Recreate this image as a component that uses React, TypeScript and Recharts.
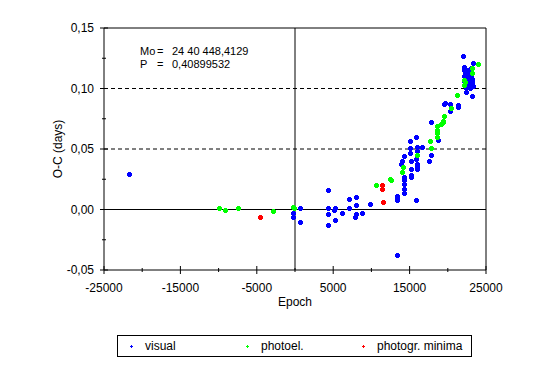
import React from "react";
import {
  ScatterChart,
  Scatter,
  XAxis,
  YAxis,
  ReferenceLine,
} from "recharts";

// epoch ticks every 5000, labels on every other one
const xTicks = [-25000, -20000, -15000, -10000, -5000, 0, 5000, 10000, 15000, 20000, 25000];
const yTicks = [-0.05, -0.025, 0, 0.025, 0.05, 0.075, 0.1, 0.125, 0.15];

const visualEpoch = [
  -21700, -300, -300, 650, 650, 4360, 4360, 4360, 4360, 5270, 5150, 5240, 6110, 7070, 7110,
  8020, 7980, 7980, 7890, 8770, 9820, 13310, 13310, 13310, 13310, 14230, 14230, 14230, 14230,
  14230, 13910, 14040, 14230, 15010, 15010, 15010, 15140, 15140, 15140, 15140, 15840, 15840,
  15840, 15930, 15930, 16010, 16010, 16010, 16620, 17580, 17800, 17840, 18680, 19590, 19500,
  20290, 20290, 21300, 21300, 21990, 22380, 23130, 22100, 22100, 22200, 22150, 22250, 22100,
  22300, 22200, 22400, 22600, 22700, 22550, 22800, 23000, 23050, 23100, 23150, 23200, 23250,
  22950, 23300, 22700, 22400,
];
const visualOC = [
  0.029, -0.003, -0.006, 0.001, -0.010, 0.016, 0.001, -0.004, -0.013, 0.001, 0.0, -0.0085,
  -0.003, 0.009, 0.001, 0.0105, 0.004, -0.0035, -0.006, -0.003, 0.0045, 0.011, 0.009, 0.0075,
  -0.038, 0.027, 0.024, 0.021, 0.017, 0.014, 0.038, 0.040, 0.044, 0.057, 0.0505, 0.047, 0.040,
  0.0335, 0.0285, 0.027, 0.060, 0.008, 0.042, 0.0515, 0.0485, 0.038, 0.0355, 0.0335, 0.0515,
  0.040, 0.072, 0.045, 0.0575, 0.088, 0.087, 0.0815, 0.087, 0.0865, 0.085, 0.127, 0.0975, 0.094,
  0.118, 0.115, 0.112, 0.110, 0.108, 0.106, 0.104, 0.102, 0.100, 0.112, 0.109, 0.106, 0.104,
  0.117, 0.114, 0.111, 0.108, 0.105, 0.102, 0.100, 0.121, 0.115, 0.110,
];

const photoelEpoch = [
  -10000, -9100, -7500, -2840, -300, -130, 10600, 12470, 12600, 14040, 14100, 16010, 17670,
  17800, 18590, 18590, 18590, 18590, 19110, 19330, 19540, 19410, 20380, 21240, 22160, 22160,
  22300, 23170, 23130, 23910,
];
const photoelOC = [
  0.001, 0.0, 0.001, -0.001, 0.002, 0.001, 0.020, 0.025, 0.0245, 0.031, 0.035, 0.045, 0.057,
  0.051, 0.069, 0.066, 0.063, 0.060, 0.071, 0.073, 0.077, 0.0727, 0.084, 0.095, 0.107, 0.103,
  0.105, 0.1125, 0.117, 0.120,
];

const photogrEpoch = [-4580, 11350, 11350, 11560];
const photogrOC = [-0.006, 0.020, 0.017, 0.006];

const toPoints = (xs: number[], ys: number[]) => xs.map((x, i) => ({ epoch: x, oc: ys[i] }));

const visual = toPoints(visualEpoch, visualOC);
const photoel = toPoints(photoelEpoch, photoelOC);
const photogr = toPoints(photogrEpoch, photogrOC);

const FONT = '"Liberation Sans", Arial, sans-serif';

// small pixel "plus" blob like the old Excel marker
function plus(cx: number, cy: number, fill: string, w = 5, t = 3) {
  const x = Math.round(cx);
  const y = Math.round(cy);
  const h = Math.floor(w / 2);
  const k = Math.floor(t / 2);
  return (
    <g shapeRendering="crispEdges" fill={fill}>
      <rect x={x - h} y={y - k} width={w} height={t} />
      <rect x={x - k} y={y - h} width={t} height={w} />
    </g>
  );
}

const marker = (fill: string, w?: number, t?: number) => (p: any) => plus(p.cx, p.cy, fill, w, t);

function XTick(props: any) {
  const { x, y, payload, index } = props;
  const major = index % 2 === 0;
  return (
    <g>
      <line x1={x} x2={x} y1={y - (major ? 4 : 2)} y2={y + (major ? 4 : 2)} stroke="#000" />
      {major && (
        <text x={x} y={y + 22} textAnchor="middle" fontSize={12} fontFamily={FONT} fill="#000">
          {payload.value}
        </text>
      )}
    </g>
  );
}

function YTick(props: any) {
  const { x, y, payload, index } = props;
  const major = index % 2 === 0;
  return (
    <g>
      <line x1={x - (major ? 4 : 2)} x2={x + (major ? 4 : 2)} y1={y} y2={y} stroke="#000" />
      {major && (
        <text x={x - 10} y={y + 4} textAnchor="end" fontSize={12} fontFamily={FONT} fill="#000">
          {payload.value.toFixed(2).replace(".", ",")}
        </text>
      )}
    </g>
  );
}

const legendItems = [
  { name: "visual", color: "#0000ff", x: 131 },
  { name: "photoel.", color: "#00ff00", x: 247 },
  { name: "photogr. minima", color: "#ff0000", x: 363 },
];

export default function App() {
  return (
    <div style={{ position: "absolute", left: 0, top: 0, width: 542, height: 368, background: "#fff" }}>
      <ScatterChart width={542} height={368} margin={{ top: 28, right: 56, left: 44, bottom: 58 }}>
        <XAxis
          type="number"
          dataKey="epoch"
          domain={[-25000, 25000]}
          ticks={xTicks}
          interval={0}
          height={40}
          tickSize={0}
          tickMargin={0}
          tick={XTick}
          axisLine={{ stroke: "#000" }}
          tickLine={false}
        />
        <YAxis
          type="number"
          dataKey="oc"
          domain={[-0.05, 0.15]}
          ticks={yTicks}
          interval={0}
          width={60}
          tickSize={0}
          tickMargin={0}
          tick={YTick}
          axisLine={{ stroke: "#000" }}
          tickLine={false}
        />
        <ReferenceLine y={0.15} stroke="#000" />
        <ReferenceLine x={25000} stroke="#000" />
        <ReferenceLine y={0.1} stroke="#000" strokeDasharray="4 3" />
        <ReferenceLine y={0.05} stroke="#000" strokeDasharray="4 3" />
        <ReferenceLine y={0} stroke="#000" />
        <ReferenceLine x={0} stroke="#000" />
        <Scatter name="visual" data={visual} shape={marker("#0000ff")} isAnimationActive={false} />
        <Scatter name="photoel." data={photoel} shape={marker("#00ff00", 5, 3)} isAnimationActive={false} />
        <Scatter name="photogr. minima" data={photogr} shape={marker("#ff0000", 5, 3)} isAnimationActive={false} />
      </ScatterChart>
      <svg
        width={542}
        height={368}
        style={{ position: "absolute", left: 0, top: 0, pointerEvents: "none" }}
        fontFamily={FONT}
      >
        <g fontSize={11} fill="#000">
          <text x={140} y={55}>Mo</text>
          <text x={157} y={55}>=</text>
          <text x={172} y={55}>24 40 448,4129</text>
          <text x={140} y={68}>P</text>
          <text x={157} y={68}>=</text>
          <text x={172} y={68}>0,40899532</text>
        </g>
        <text x={295} y={306} textAnchor="middle" fontSize={12}>Epoch</text>
        <text x={62} y={149} textAnchor="middle" fontSize={12} transform="rotate(-90 62 149)">
          O-C (days)
        </text>
        <rect x={117.5} y={335.5} width={354} height={21} fill="#fff" stroke="#000" />
        {legendItems.map((it) => (
          <g key={it.name}>
            {plus(it.x, 346, it.color, 3, 1)}
            <text x={it.x + 14} y={350} fontSize={12}>{it.name}</text>
          </g>
        ))}
      </svg>
    </div>
  );
}
